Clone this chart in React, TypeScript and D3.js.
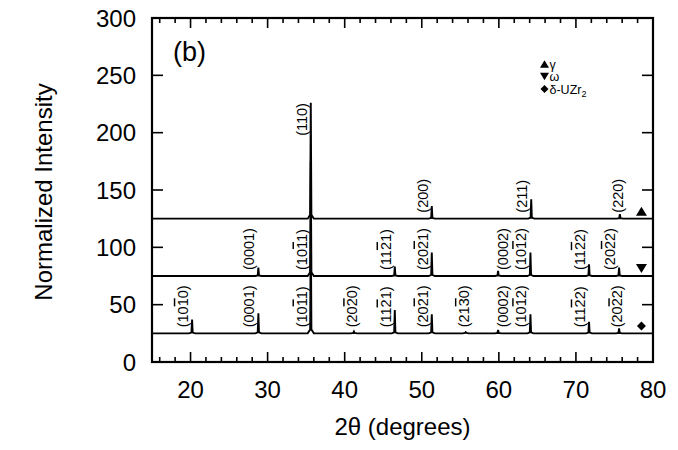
import React from "react";
import * as d3 from "d3";

// ---- data ----
const xTicks = [20, 30, 40, 50, 60, 70, 80];
const xMinorTicks = [16, 18, 22, 24, 26, 28, 32, 34, 36, 38, 42, 44, 46, 48, 52, 54, 56, 58, 62, 64, 66, 68, 72, 74, 76, 78];
const yTicks = [0, 50, 100, 150, 200, 250, 300];

// gamma phase (baseline 125)
const gammaPos = [35.6, 51.3, 64.2, 75.7];
const gammaHeight = [101, 11, 17, 4];
const gammaLabels = ["(110)", "(200)", "(211)", "(220)"];

// omega phase (baseline 75)
const omegaPos = [28.8, 35.6, 46.5, 51.3, 59.9, 64.1, 71.7, 75.6];
const omegaHeight = [7.3, 100, 8.2, 20.4, 4.4, 20.4, 10.2, 7.3];
const omegaLabels = ["(0001)", "(10!11)", "(11!21)", "(20!21)", "(0002)", "(10!12)", "(11!22)", "(20!22)"];

// delta-UZr2 phase (baseline 25)
const deltaPos = [20.2, 28.8, 35.6, 41.2, 46.5, 51.3, 55.7, 59.9, 64.1, 71.7, 75.6];
const deltaHeight = [12, 17.4, 100, 1.5, 20.3, 16.6, 1, 2.9, 16.6, 10.1, 4.4];
const deltaLabels = ["(10!10)", "(0001)", "(10!11)", "(20!20)", "(11!21)", "(20!21)", "(21!30)", "(0002)", "(10!12)", "(11!22)", "(20!22)"];

const baselines = [125, 75, 25];
const legendNames = ["γ", "ω", "δ-UZr"];

// ---- layout ----
const W = 678;
const H = 450;
const L = 152, R = 653, T = 18, B = 362;
const FONT = "'Liberation Sans', Arial, Helvetica, sans-serif";

const x = d3.scaleLinear().domain([15, 80]).range([L, R]);
const y = d3.scaleLinear().domain([0, 300]).range([B, T]);

type Series = { pos: number[]; h: number[]; labels: string[]; base: number };
const series: Series[] = [
  { pos: gammaPos, h: gammaHeight, labels: gammaLabels, base: baselines[0] },
  { pos: omegaPos, h: omegaHeight, labels: omegaLabels, base: baselines[1] },
  { pos: deltaPos, h: deltaHeight, labels: deltaLabels, base: baselines[2] },
];

function tracePath(s: Series): string {
  const pts: [number, number][] = [[15, s.base]];
  const order = d3.range(s.pos.length).sort((a, b) => s.pos[a] - s.pos[b]);
  for (const i of order) {
    const p = s.pos[i];
    const h = s.h[i];
    const foot = Math.min(3.5, 0.3 + h * 0.03);
    pts.push([p - 0.4, s.base]);
    pts.push([p - 0.08, s.base + foot]);
    pts.push([p, s.base + h]);
    pts.push([p + 0.08, s.base + foot]);
    pts.push([p + 0.4, s.base]);
  }
  pts.push([80, s.base]);
  const line = d3.line<[number, number]>().x((d) => x(d[0])).y((d) => y(d[1]));
  return line(pts) || "";
}

function labelDx(label: string, h: number): number {
  if (label === "(0002)") return 5;
  if (h < 6) return -2;
  return -9.5;
}

function Label({ text, px, py }: { text: string; px: number; py: number }) {
  const parts: React.ReactNode[] = [];
  let i = 0;
  let k = 0;
  let buf = "";
  while (i < text.length) {
    const c = text[i];
    if (c === "!") {
      if (buf) parts.push(<tspan key={k++}>{buf}</tspan>);
      buf = "";
      parts.push(
        <tspan key={k++} style={{ textDecoration: "overline" }}>
          {text[i + 1]}
        </tspan>
      );
      i += 2;
    } else {
      buf += c;
      i++;
    }
  }
  if (buf) parts.push(<tspan key={k++}>{buf}</tspan>);
  return (
    <text
      transform={`translate(${px},${py}) rotate(-90)`}
      dy="0.36em"
      fontSize={14.5}
      fontFamily={FONT}
      textAnchor="start"
    >
      {parts}
    </text>
  );
}

function triUp(cx: number, cy: number, w: number, h: number) {
  return `M${cx - w / 2},${cy + h / 2}L${cx + w / 2},${cy + h / 2}L${cx},${cy - h / 2}Z`;
}
function triDown(cx: number, cy: number, w: number, h: number) {
  return `M${cx - w / 2},${cy - h / 2}L${cx + w / 2},${cy - h / 2}L${cx},${cy + h / 2}Z`;
}
function diamond(cx: number, cy: number, r: number) {
  return `M${cx},${cy - r}L${cx + r},${cy}L${cx},${cy + r}L${cx - r},${cy}Z`;
}

export default function App() {
  const markerFns = [
    (cx: number, cy: number, big: boolean) => triUp(cx, cy, big ? 11 : 9, big ? 9 : 7.5),
    (cx: number, cy: number, big: boolean) => triDown(cx, cy, big ? 11 : 9, big ? 9 : 7.5),
    (cx: number, cy: number, big: boolean) => diamond(cx, cy, big ? 4.5 : 4),
  ];
  return (
    <svg width={W} height={H} style={{ position: "absolute", left: 0, top: 0, background: "#fff" }}>
      <rect x={0} y={0} width={W} height={H} fill="#fff" />
      {/* traces */}
      {series.map((s, si) => (
        <path key={si} d={tracePath(s)} fill="none" stroke="#000" strokeWidth={1.9} strokeLinejoin="miter" />
      ))}
      {/* peak labels */}
      {series.map((s, si) =>
        s.labels.map((lab, li) => {
          const px = x(s.pos[li]) + labelDx(lab, s.h[li]);
          let py = y(s.base) - 6;
          if (lab === "(110)") py = y(s.base + s.h[li]) + 33;
          return <Label key={`${si}-${li}`} text={lab} px={px} py={py} />;
        })
      )}
      {/* right-side phase markers */}
      {series.map((s, si) => (
        <path key={`m${si}`} d={markerFns[si](x(78.5), y(s.base + 6.5), true)} fill="#000" />
      ))}
      {/* frame */}
      <rect x={L} y={T} width={R - L} height={B - T} fill="none" stroke="#000" strokeWidth={2.2} />
      {/* x ticks */}
      {xTicks.map((t) => (
        <g key={`xt${t}`}>
          <line x1={x(t)} x2={x(t)} y1={B} y2={B - 10} stroke="#000" strokeWidth={1.6} />
          <line x1={x(t)} x2={x(t)} y1={T} y2={T + 10} stroke="#000" strokeWidth={1.6} />
          <text x={x(t)} y={398} textAnchor="middle" fontSize={24} fontFamily={FONT}>
            {t}
          </text>
        </g>
      ))}
      {xMinorTicks.map((t) => (
        <g key={`xm${t}`}>
          <line x1={x(t)} x2={x(t)} y1={B} y2={B - 5} stroke="#000" strokeWidth={1.6} />
          <line x1={x(t)} x2={x(t)} y1={T} y2={T + 5} stroke="#000" strokeWidth={1.6} />
        </g>
      ))}
      {/* y ticks */}
      {yTicks.map((t) => (
        <g key={`yt${t}`}>
          <line x1={L} x2={L + 11} y1={y(t)} y2={y(t)} stroke="#000" strokeWidth={1.6} />
          <line x1={R} x2={R - 11} y1={y(t)} y2={y(t)} stroke="#000" strokeWidth={1.6} />
          <text x={136} y={y(t)} dy="0.36em" textAnchor="end" fontSize={24} fontFamily={FONT}>
            {t}
          </text>
        </g>
      ))}
      {/* axis titles */}
      <text x={(L + R) / 2} y={435} textAnchor="middle" fontSize={24} fontFamily={FONT}>
        2θ (degrees)
      </text>
      <text transform={`translate(43,${(T + B) / 2 + 2}) rotate(-90)`} dy="0.36em" textAnchor="middle" fontSize={24} fontFamily={FONT}>
        Normalized Intensity
      </text>
      {/* panel label */}
      <text x={173} y={61} fontSize={27} fontFamily={FONT}>
        (b)
      </text>
      {/* legend */}
      {legendNames.map((n, i) => (
        <g key={`lg${i}`}>
          <path d={markerFns[i](544.5, 64 + i * 12.5, false)} fill="#000" />
          <text x={549.5} y={64 + i * 12.5} dy="0.36em" fontSize={12.5} fontFamily={FONT}>
            {n}
            {i === 2 ? (
              <tspan dy={3.5} fontSize={9}>
                2
              </tspan>
            ) : null}
          </text>
        </g>
      ))}
    </svg>
  );
}
